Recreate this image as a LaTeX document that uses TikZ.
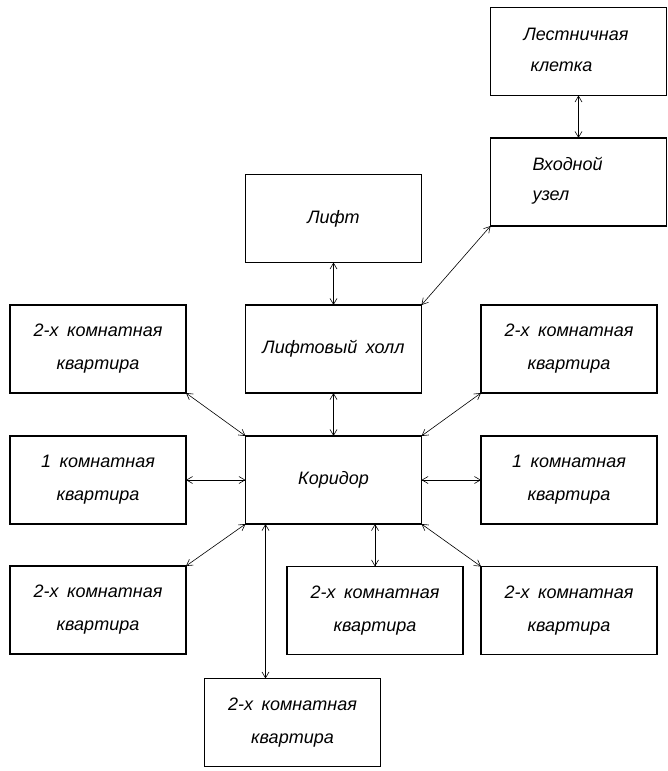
\documentclass[tikz,border=0pt]{standalone}
\usepackage{fontspec}
\setmainfont{Liberation Sans}[WordSpace=1.7]
\usetikzlibrary{arrows.meta,calc}

\tikzset{
  room/.style={draw, line width=1.1pt, minimum width=176pt, minimum height=88pt,
    inner sep=0pt, outer sep=0pt, align=center,
    font=\itshape\fontsize{18}{33}\selectfont},
  link/.style={line width=0.6pt, {Straight Barb[length=6pt,width=7pt]}-{Straight Barb[length=6pt,width=7pt]}}
}

\begin{document}
\begin{tikzpicture}[scale=1.000000,x=1pt,y=-1pt]
\useasboundingbox (0.000000, 0.000000) rectangle (667.000000, 771.000000);
% Drawing boxes
% Column: stairs and entry
\node[room] (stair) at (578.500000, 51.500000) {};
\node[anchor=west, align=left, font=\itshape\fontsize{18}{33}\selectfont] (stairtxt) at (520.000000, 50.000000) {Лестничная\\[-2pt]\hspace{7pt}клетка};
\node[room] (entry) at (578.500000, 182.000000) {};
\node[anchor=west, align=left, font=\itshape\fontsize{18}{30}\selectfont] (entrytxt) at (529.000000, 181.000000) {Входной\\узел};
% Column: lift, hall, corridor
\node[room] (lift) at (333.500000, 218.500000) {Лифт};
\node[room] (hall) at (333.500000, 349.000000) {Лифтовый холл};
\node[room] (corridor) at (333.500000, 480.000000) {Коридор};
% Left flats
\node[room] (aptLT) at (98.000000, 349.000000) {2-х комнатная\\квартира};
\node[room] (aptL1) at (98.000000, 480.000000) {1 комнатная\\квартира};
\node[room] (aptLB) at (98.000000, 610.000000) {2-х комнатная\\квартира};
% Right flats
\node[room] (aptRT) at (569.000000, 349.000000) {2-х комнатная\\квартира};
\node[room] (aptR1) at (569.000000, 480.000000) {1 комнатная\\квартира};
\node[room] (aptRB) at (569.000000, 610.500000) {2-х комнатная\\квартира};
% Bottom flats
\node[room] (aptMB) at (375.000000, 610.500000) {2-х комнатная\\квартира};
\node[room] (aptB) at (292.500000, 722.500000) {2-х комнатная\\квартира};
% Done with boxes; drawing links
\draw[link] (stair.south) -- (entry.north);
\draw[link] (entry.south west) -- (hall.north east);
\draw[link] (lift.south) -- (hall.north);
\draw[link] (hall.south) -- (corridor.north);
\draw[link] (aptLT.south east) -- (corridor.north west);
\draw[link] (aptL1.east) -- (corridor.west);
\draw[link] (aptLB.north east) -- (corridor.south west);
\draw[link] (aptRT.south west) -- (corridor.north east);
\draw[link] (aptR1.west) -- (corridor.east);
\draw[link] (aptRB.north west) -- (corridor.south east);
\draw[link] (corridor.south -| aptMB.north) -- (aptMB.north);
\coordinate (cb) at ($(corridor.south west)+(20.000000,0.000000)$);
\draw[link] (cb) -- (cb |- aptB.north);
% Done with links
\end{tikzpicture}
\end{document}
